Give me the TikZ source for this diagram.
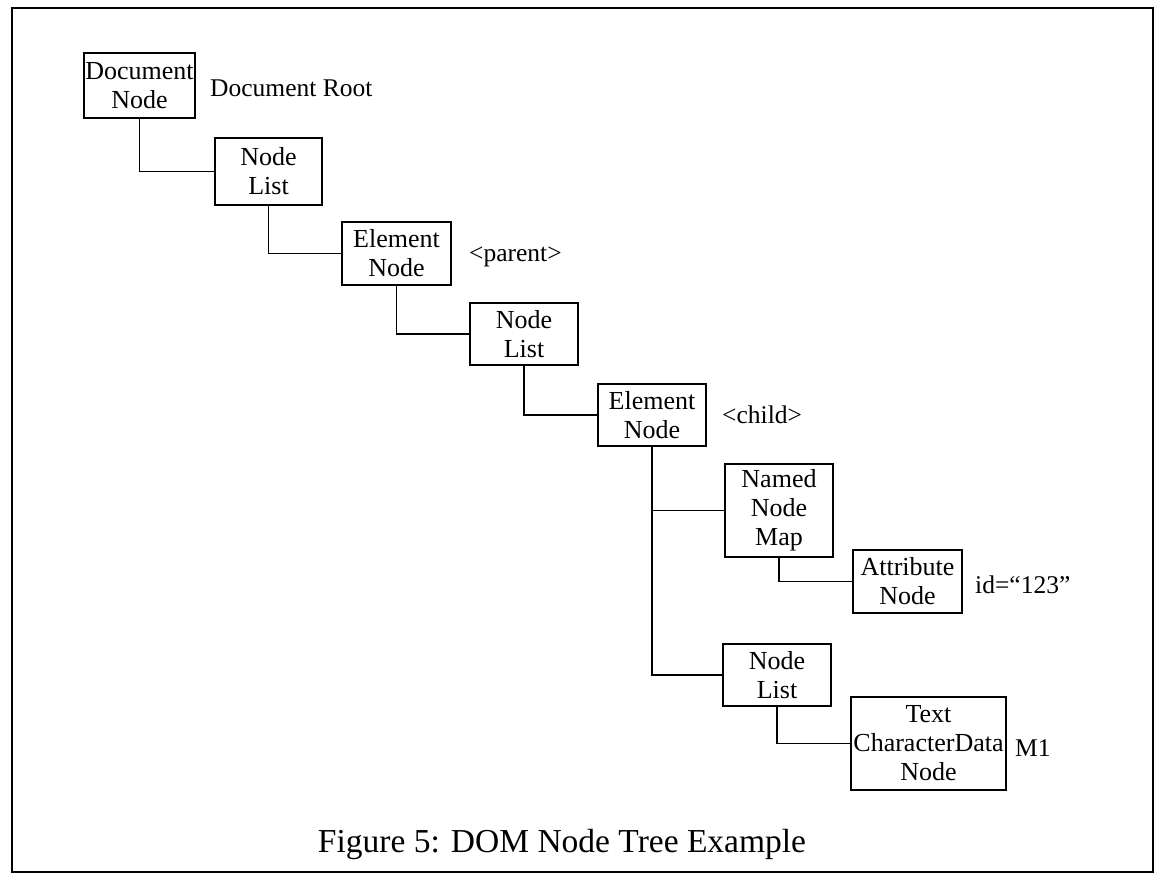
\documentclass[tikz,border=0pt]{standalone}
\usepackage{fontspec}
\setmainfont{Liberation Serif}
\begin{document}
\begin{tikzpicture}[x=1pt,y=-1pt,
  box/.style={draw,line width=1.8pt,inner sep=0pt,align=center,
    font=\fontsize{26}{29}\selectfont},
  lbl/.style={anchor=west,inner sep=0pt,font=\fontsize{25.5}{29}\selectfont},
  conn/.style={line width=1.8pt}]
\useasboundingbox (0,0) rectangle (1156,875);
\draw[line width=1.6pt] (12,8) rectangle (1153,872);
\node[box,minimum width=111pt,minimum height=65pt] (doc) at (139.5,85.5) {Document\\Node};
\node[box,minimum width=107pt,minimum height=67pt] (nl1) at (268.5,171.5) {Node\\List};
\node[box,minimum width=109pt,minimum height=63pt] (el1) at (396.5,253.5) {Element\\Node};
\node[box,minimum width=108pt,minimum height=62pt] (nl2) at (524,334) {Node\\List};
\node[box,minimum width=108pt,minimum height=62pt] (el2) at (652,415) {Element\\Node};
\node[box,minimum width=108pt,minimum height=93pt] (nnm) at (779,510.5) {Named\\Node\\Map};
\node[box,minimum width=109pt,minimum height=63pt] (attr) at (907.5,581.5) {Attribute\\Node};
\node[box,minimum width=108pt,minimum height=62pt] (nl3) at (777,675) {Node\\List};
\node[box,minimum width=155pt,minimum height=93pt] (txt) at (928.5,743.5) {Text\\CharacterData\\Node};

\node[lbl] (lroot) at (210,88) {Document Root};
\node[lbl] (lparent) at (469,257) {<parent>};
\node[lbl] (lchild) at (722,415) {<child>};
\node[lbl] (lid) at (975,585) {id=“123”};
\node[lbl] (lm1) at (1015,748) {M1};

\draw[conn] (doc.south) |- (nl1.west);
\draw[conn] (nl1.south) |- (el1.west);
\draw[conn] (el1.south) |- (nl2.west);
\draw[conn] (nl2.south) |- (el2.west);
\draw[conn] (el2.south) |- (nnm.west);
\draw[conn] (el2.south) |- (nl3.west);
\draw[conn] (nnm.south) |- (attr.west);
\draw[conn] (nl3.south) |- (txt.west);

\node[inner sep=0pt,font=\fontsize{33.5}{36}\selectfont] (cap) at (562,844) {Figure 5: DOM Node Tree Example};
\end{tikzpicture}
\end{document}
